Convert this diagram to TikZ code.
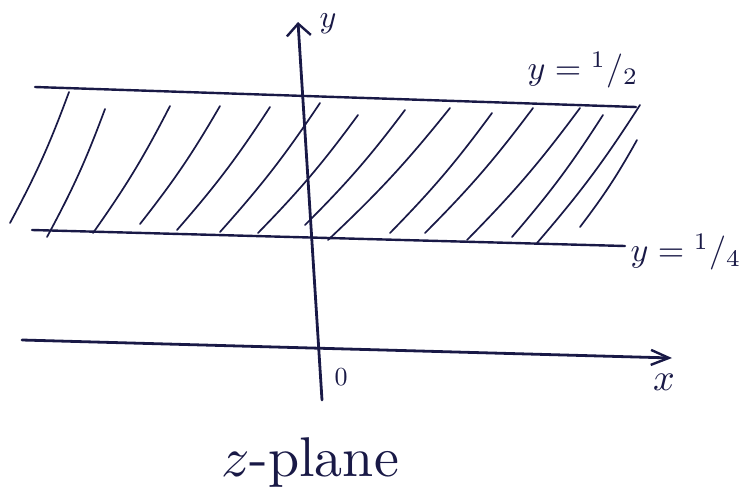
\documentclass[tikz,border=0pt]{standalone}
\usepackage{graphicx}
\usetikzlibrary{arrows.meta}
\definecolor{ink}{RGB}{25,25,70}
\begin{document}
\begin{tikzpicture}[x=1pt,y=-1pt,
  ink line/.style={draw=ink,line width=2.4pt,line cap=round},
  axis line/.style={draw=ink,line width=2.8pt,line cap=round},
  hatch/.style={draw=ink,line width=1.7pt,line cap=round},
  lbl/.style={text=ink,inner sep=0pt},
  barb/.style={-{Straight Barb[length=12pt,width=24pt,line width=2.4pt]}}]
\path[use as bounding box] (0,0) rectangle (740,490);
% boundary lines
\coordinate (tl) at (35,87);
\coordinate (tr) at (636,107);
\coordinate (bl) at (32,230);
\coordinate (br) at (625,246);
\draw[ink line] (tl) -- (tr);
\draw[ink line] (bl) -- (br);
% hatching
\foreach \xa/\ya/\xb/\yb in {69/92/10/223, 105/109/47/237, 170/106/93/233,
  220/106/140/224, 270/107/177/230, 320/103/220/232, 358/115/258/233,
  405/110/305/225, 450/108/328/240, 492/113/390/233, 533/108/425/233,
  580/108/467/240, 603/115/512/237, 640/105/537/243, 637/140/580/227}
  \draw[hatch] (\xa,\ya) to[bend left=4] (\xb,\yb);
% axes
\coordinate (yb) at (322,400);
\coordinate (yt) at (298,22);
\coordinate (xl) at (22,340);
\coordinate (xr) at (672,358);
\draw[axis line,barb] (yb) -- (yt);
\draw[axis line,-{Straight Barb[length=18pt,width=15pt,line width=2.4pt]}] (xl) -- (xr);
% labels
\node[lbl] (ylab) at (328,24) {\scalebox{3.2}{$y$}};
\node[lbl] (xlab) at (664,382) {\scalebox{3.8}{$x$}};
\node[lbl] (olab) at (341,377) {\scalebox{2.6}{$0$}};
\node[lbl] (half) at (583,70) {\scalebox{3.4}{$y={}^{1}/_{2}$}};
\node[lbl] (quarter) at (686,252) {\scalebox{3.4}{$y={}^{1}/_{4}$}};
\node[lbl] (plane) at (310,462) {\scalebox{5.6}{$z$-plane}};
\end{tikzpicture}
\end{document}
